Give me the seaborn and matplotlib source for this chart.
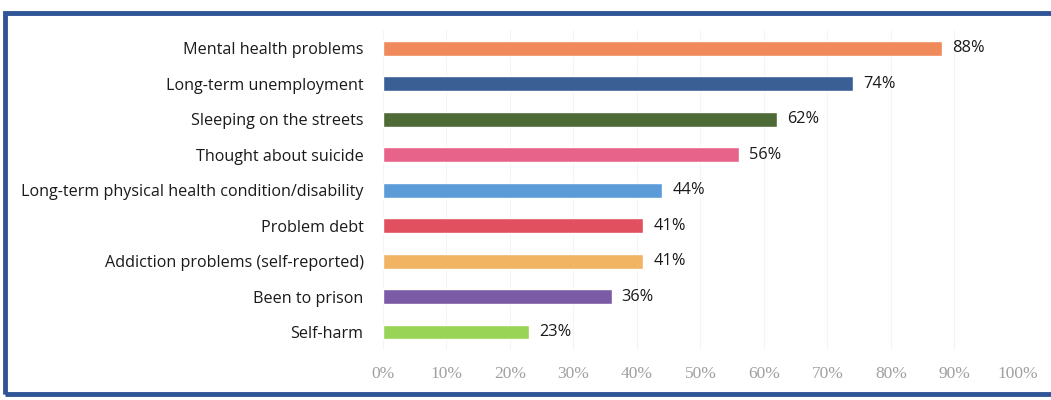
import matplotlib
matplotlib.use("Agg")
import matplotlib.pyplot as plt
import seaborn as sns
import pandas as pd
from matplotlib.patches import Rectangle
from matplotlib.ticker import FuncFormatter

categories = [
    "Mental health problems",
    "Long-term unemployment",
    "Sleeping on the streets",
    "Thought about suicide",
    "Long-term physical health condition/disability",
    "Problem debt",
    "Addiction problems (self-reported)",
    "Been to prison",
    "Self-harm",
]
values = [88, 74, 62, 56, 44, 41, 41, 36, 23]
colors = ["#F08A5B", "#3A5F95", "#4E6B37", "#E8638A", "#5B9BD8",
          "#E0505E", "#F0B462", "#7B5BA6", "#9AD457"]
ticks = [0, 10, 20, 30, 40, 50, 60, 70, 80, 90, 100]

sns.set_theme(style="white")
plt.rcParams['font.family'] = ['Open Sans', 'DejaVu Sans']

df = pd.DataFrame({"category": categories, "value": values})

fig = plt.figure(figsize=(10.51, 4.0), dpi=100)
ax = fig.add_axes([0.3644, 0.1256, 0.9686 - 0.3644, 0.924 - 0.1256])

sns.barplot(data=df, x="value", y="category", hue="category",
            palette=colors, legend=False, width=0.42, ax=ax,
            saturation=1, orient="h")

ax.set_xlim(0, 100)
ax.set_xticks(ticks)
ax.xaxis.set_major_formatter(FuncFormatter(lambda v, p: f"{int(v)}%"))
ax.tick_params(axis="x", colors="#9a9a9a", labelsize=12.5, length=0, pad=12)
ax.tick_params(axis="y", colors="#1a1a1a", labelsize=11.6, length=0, pad=14)
for lbl in ax.get_xticklabels():
    lbl.set_family(["Liberation Serif", "DejaVu Serif"])
    lbl.set_color("#a0a0a0")
ax.set_xlabel("")
ax.set_ylabel("")
for s in ax.spines.values():
    s.set_visible(False)
ax.grid(axis="x", color="#f4f4f4", linewidth=0.8)
ax.set_axisbelow(True)

for i, v in enumerate(values):
    ax.text(v + 1.6, i, f"{v}%", va="center", ha="left",
            fontsize=11.8, color="#1a1a1a")

# blue frame (scanned document border)
frame = Rectangle((5 / 1051, 6 / 400), 1.05, 381 / 400,
                  transform=fig.transFigure, fill=False,
                  edgecolor="#2F5597", linewidth=3.5, clip_on=False)
fig.patches.append(frame)

fig.savefig("out.png", dpi=100)
